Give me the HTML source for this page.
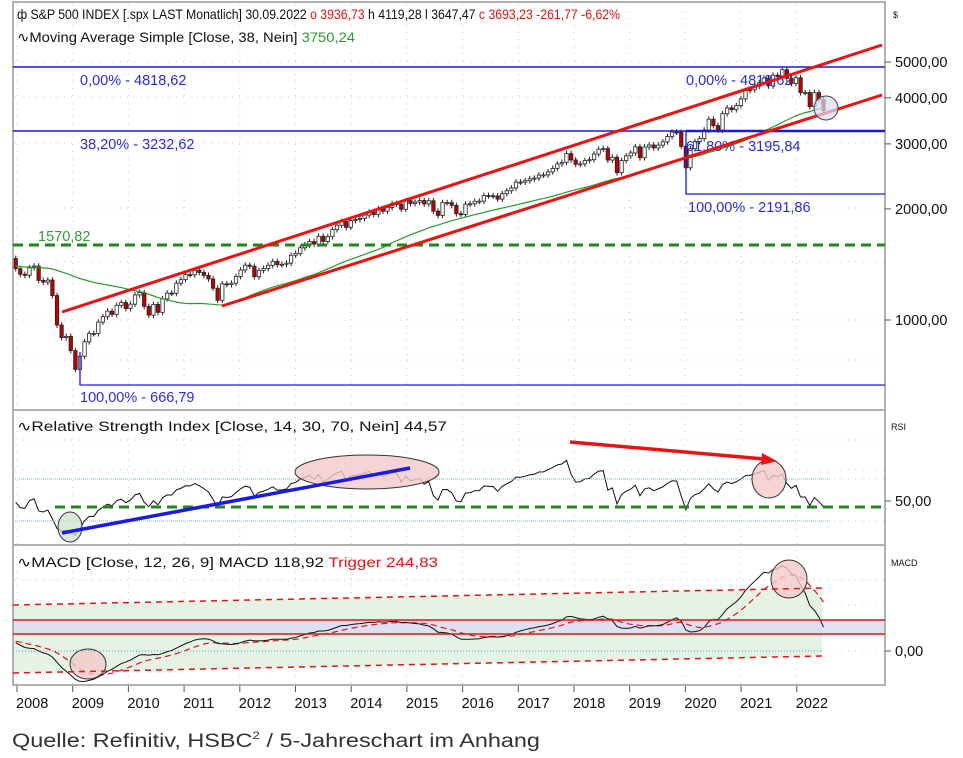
<!DOCTYPE html>
<html><head><meta charset="utf-8">
<style>
body{margin:0;background:#fff;width:963px;height:758px;overflow:hidden;font-family:"Liberation Sans",sans-serif}
svg{position:absolute;left:0;top:0}
text{font-family:"Liberation Sans",sans-serif}
</style></head>
<body>
<svg id="c" width="963" height="758">
<rect x="0" y="0" width="963" height="758" fill="#fff"/>
<g id="grid"></g>
<polygon points="13,605 822,588 822,656 13,673" fill="#e6f2e3"/>
<rect x="13" y="620" width="872" height="14" fill="#dcdcf2" opacity="0.85"/>
<g id="marks"></g>
<g fill="none" stroke="#999" stroke-width="1.5">
<rect x="13" y="2" width="872" height="683"/>
<line x1="13" y1="410" x2="885" y2="410"/>
<line x1="13" y1="545" x2="885" y2="545"/>
</g>
<g stroke="#1a1ae6" fill="none">
<line x1="13" y1="67" x2="885" y2="67" stroke-width="1.5"/>
<line x1="13" y1="131" x2="885" y2="131" stroke-width="1.5"/>
<line x1="686" y1="131" x2="885" y2="131" stroke-width="2.5"/>
<polyline points="686,131 686,194 885,194" stroke-width="1.3"/>
<polyline points="80,352 80,385 885,385" stroke-width="1.3"/>
</g>
<g font-size="14.5" fill="#2a2ae6">
<text x="80" y="85">0,00% - 4818,62</text>
<text x="80" y="149">38,20% - 3232,62</text>
<text x="686" y="85">0,00% - 4818,62</text>
<text x="686" y="151">61,80% - 3195,84</text>
<text x="688" y="212">100,00% - 2191,86</text>
<text x="80" y="402">100,00% - 666,79</text>
</g>
<line x1="13" y1="245" x2="885" y2="245" stroke="#1a8a1a" stroke-width="3" stroke-dasharray="10,6"/>
<text x="38" y="241" font-size="14.5" fill="#3a9a3a">1570,82</text>
<line x1="62" y1="312" x2="882" y2="45" stroke="#ee1111" stroke-width="3"/>
<line x1="222" y1="306" x2="882" y2="95" stroke="#ee1111" stroke-width="3"/>
<circle cx="826" cy="108" r="12" fill="#d8ddf5" fill-opacity="0.7" stroke="#444"/>
<line x1="13" y1="479" x2="830" y2="479" stroke="#7ab0e8" stroke-dasharray="1,1"/>
<line x1="13" y1="521" x2="830" y2="521" stroke="#7ab0e8" stroke-dasharray="1,1"/>
<ellipse cx="70" cy="527" rx="12" ry="15" fill="#cfe5cc" fill-opacity="0.8" stroke="#333"/>
<ellipse cx="367" cy="472" rx="72" ry="17" fill="#f5c9c9" fill-opacity="0.8" stroke="#333"/>
<ellipse cx="769" cy="479" rx="17" ry="19" fill="#f5c9c9" fill-opacity="0.8" stroke="#333"/>
<line x1="55" y1="507" x2="885" y2="507" stroke="#1a8a1a" stroke-width="3" stroke-dasharray="10,6"/>
<ellipse cx="88" cy="664" rx="18" ry="15" fill="#f5c9c9" fill-opacity="0.8" stroke="#333"/>
<ellipse cx="789" cy="579" rx="18" ry="19" fill="#f5c9c9" fill-opacity="0.8" stroke="#333"/>
<line x1="13" y1="620" x2="885" y2="620" stroke="#e01414" stroke-width="1.5"/>
<line x1="13" y1="634" x2="885" y2="634" stroke="#e01414" stroke-width="1.5"/>
<line x1="13" y1="605" x2="822" y2="588" stroke="#e01414" stroke-width="1.5" stroke-dasharray="6,5"/>
<line x1="13" y1="673" x2="822" y2="656" stroke="#e01414" stroke-width="1.5" stroke-dasharray="6,5"/>
<line x1="13" y1="651" x2="822" y2="651" stroke="#3aa0d8" stroke-dasharray="1,2"/>
<line x1="62" y1="533" x2="410" y2="468" stroke="#1a1ae6" stroke-width="3.5"/>
<line x1="570" y1="442" x2="765" y2="459" stroke="#ee1111" stroke-width="3.5"/>
<polygon points="777,461 762,453 761,465" fill="#ee1111"/>
<g font-size="14">
<text x="17" y="19" fill="#111" textLength="603" lengthAdjust="spacingAndGlyphs">ф S&amp;P 500 INDEX [.spx LAST Monatlich] 30.09.2022 <tspan fill="#e01414">o 3936,73</tspan> h 4119,28 l 3647,47 <tspan fill="#e01414">c 3693,23 -261,77 -6,62%</tspan></text>
<text x="17" y="42" fill="#111" textLength="338" lengthAdjust="spacingAndGlyphs">∿Moving Average Simple [Close, 38, Nein] <tspan fill="#2a9a2a">3750,24</tspan></text>
<text x="17" y="431" fill="#111" textLength="430" lengthAdjust="spacingAndGlyphs">∿Relative Strength Index [Close, 14, 30, 70, Nein] 44,57</text>
<text x="17" y="567" fill="#111" textLength="421" lengthAdjust="spacingAndGlyphs">∿MACD [Close, 12, 26, 9] MACD 118,92 <tspan fill="#e01414">Trigger 244,83</tspan></text>
</g>
<g id="axes" font-size="14.5" fill="#111">
<text x="893" y="18" font-size="9">$</text>
<text x="891" y="430" font-size="9">RSI</text>
<text x="891" y="566" font-size="9">MACD</text>
</g>
<text x="12" y="747" font-size="19" fill="#333" textLength="528" lengthAdjust="spacingAndGlyphs">Quelle: Refinitiv, HSBC<tspan font-size="11" dy="-8">2</tspan><tspan dy="8"> / 5-Jahreschart im Anhang</tspan></text>
</svg>
<script>
const warmupCloses = [1280,1281,1295,1311,1270,1270,1277,1304,1336,1378,1401,1418,1438,1407,1421,1482,1531,1503,1455,1474,1527,1549,1481,1468];
const closes = [
1378,1330,1322,1385,1400,1280,1267,1283,1165,969,896,903,
826,735,798,873,919,919,987,1021,1057,1036,1096,1115,
1074,1104,1169,1187,1089,1031,1102,1049,1141,1183,1181,1258,
1286,1327,1326,1364,1345,1321,1292,1219,1131,1253,1247,1258,
1312,1366,1408,1398,1310,1362,1379,1407,1441,1412,1416,1426,
1498,1515,1569,1598,1631,1606,1686,1633,1682,1757,1806,1848,
1783,1859,1872,1884,1924,1960,1931,2003,1972,2018,2068,2059,
1995,2105,2068,2086,2107,2063,2104,1972,1920,2079,2080,2044,
1940,1932,2060,2065,2097,2099,2174,2171,2168,2126,2199,2239,
2279,2364,2363,2384,2412,2423,2470,2472,2519,2575,2648,2674,
2824,2714,2641,2648,2705,2718,2816,2902,2914,2712,2760,2507,
2704,2784,2834,2946,2752,2942,2980,2926,2977,3038,3141,3231,
3226,2954,2585,2912,3044,3100,3271,3500,3363,3270,3622,3756,
3714,3811,3973,4181,4204,4298,4395,4523,4308,4605,4567,4766,
4516,4374,4530,4132,4132,3785,4130,3955,3693];
const yearLabels = ["2008","2009","2010","2011","2012","2013","2014","2015","2016","2017","2018","2019","2020","2021","2022"];
const priceTicks = [5000,4000,3000,2000,1000];
const priceTickLabels = ["5000,00","4000,00","3000,00","2000,00","1000,00"];
const rsiTicks = [50];
const rsiTickLabels = ["50,00"];
const macdTicks = [0];
const macdTickLabels = ["0,00"];

const NS="http://www.w3.org/2000/svg";
const xM = i => 15.7 + i*4.59;
const xYear = k => 17 + k*55.7;
const yP = p => 320 - 160.3*Math.log(p/1000);
const yR = r => 501 - (r-50)*1.08;
const yM = m => 651 - m*0.2;
function mk(tag, attrs, parent){const e=document.createElementNS(NS,tag);for(const k in attrs)e.setAttribute(k,attrs[k]);parent.appendChild(e);return e;}
const marks=document.getElementById('marks'), grid=document.getElementById('grid'), axes=document.getElementById('axes');

yearLabels.forEach((lab,k)=>{
  const x=xYear(k);
  const gl=mk('line',{x1:x,y1:4,x2:x,y2:685,stroke:'#c8c8c8','stroke-dasharray':'1,6'},grid);
  
  
  const tk=mk('line',{x1:x,y1:686,x2:x,y2:692,stroke:'#555'},axes);
  
  
  const t=mk('text',{x:x-1,y:708},axes); t.textContent=lab;
  
  
});
[62,97,143,208,262,320,360,440,470,479,521,580,605,651].forEach(y=>{
  const gl=mk('line',{x1:15,y1:y,x2:885,y2:y,stroke:'#c8c8c8','stroke-dasharray':'1,6'},grid);
  
  
});
function yTicks(vals,labs,fy){vals.forEach((v,i)=>{const y=fy(v);
  const tk=mk('line',{x1:885,y1:y,x2:891,y2:y,stroke:'#555'},axes);
  
  
  const t=mk('text',{x:895,y:y+5},axes); t.textContent=labs[i];
  
  
});}
yTicks(priceTicks,priceTickLabels,yP);
yTicks(rsiTicks,rsiTickLabels,yR);
yTicks(macdTicks,macdTickLabels,yM);

const all = warmupCloses.concat(closes), W=warmupCloses.length;
closes.forEach((c,i)=>{
  const o = all[W+i-1];
  const hi=Math.max(o,c)*1.018, lo=Math.min(o,c)*0.982, x=xM(i);
  const wk=mk('line',{x1:x,y1:yP(hi),x2:x,y2:yP(lo),stroke:'#222','stroke-width':1},marks);
  
  
  const top=yP(Math.max(o,c)), bot=yP(Math.min(o,c));
  const b=mk('rect',{x:x-1.7,y:top,width:3.4,height:Math.max(1,bot-top),fill:c>=o?'#fff':'#c00000',stroke:'#222','stroke-width':0.8},marks);
  
  
});

let ma=[]; for(let j=0;j<all.length;j++){const s=all.slice(Math.max(0,j-37),j+1);ma.push(s.reduce((a,b)=>a+b,0)/s.length);}
const maL=mk('polyline',{points:closes.map((c,i)=>xM(i)+','+yP(ma[W+i])).join(' '),fill:'none',stroke:'#2a9a2a','stroke-width':1.2},marks);



let ag=0,al=0,rsi=[];
for(let j=1;j<all.length;j++){const d=all[j]-all[j-1],g=Math.max(d,0),l=Math.max(-d,0);
  if(j<=14){ag+=g/14;al+=l/14;} else {ag=(ag*13+g)/14;al=(al*13+l)/14;}
  rsi[j]= al===0?100:100-100/(1+ag/al);}
const rL=mk('polyline',{points:closes.map((c,i)=>xM(i)+','+yR(rsi[W+i])).join(' '),fill:'none',stroke:'#111','stroke-width':1},marks);



let e12=all[0],e26=all[0],sig=0,macd=[],trig=[];
for(let j=0;j<all.length;j++){e12=e12+(all[j]-e12)*2/13;e26=e26+(all[j]-e26)*2/27;const m=e12-e26;sig=j===0?m:sig+(m-sig)*0.2;macd.push(m);trig.push(sig);}
const tL=mk('polyline',{points:closes.map((c,i)=>xM(i)+','+yM(trig[W+i])).join(' '),fill:'none',stroke:'#e01414','stroke-width':1.2,'stroke-dasharray':'6,4'},marks);


const mL=mk('polyline',{points:closes.map((c,i)=>xM(i)+','+yM(macd[W+i])).join(' '),fill:'none',stroke:'#111','stroke-width':1},marks);


</script>
</body></html>
